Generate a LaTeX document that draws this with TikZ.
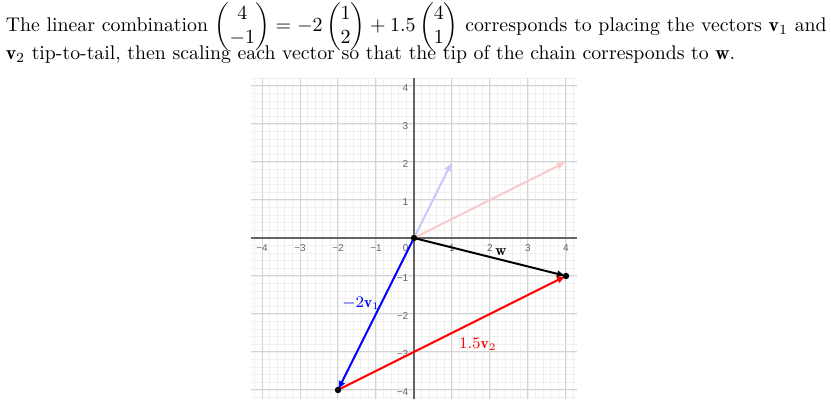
\documentclass[tikz,border=0pt]{standalone}
\usepackage{amsmath}
\usepackage{fontspec}
\newfontfamily\axisfont{Liberation Sans}
\usetikzlibrary{arrows.meta}

\definecolor{faintblue}{RGB}{200,200,255}
\definecolor{faintred}{RGB}{255,200,200}
\definecolor{minorgray}{RGB}{240,240,240}
\definecolor{majorgray}{RGB}{212,212,212}
\definecolor{axisgray}{RGB}{100,100,100}

\tikzset{every picture/.style={line width=0.75pt}}
\tikzset{
  vec/.style={line width=1pt,-{Latex[length=4.5pt,width=3.6pt]}},
  xtick/.style={anchor=center,inner sep=0pt,text=axisgray,font=\axisfont\fontsize{5}{6}\selectfont},
  ytick/.style={anchor=east,inner sep=0pt,text=axisgray,font=\axisfont\fontsize{5}{6}\selectfont},
  veclabel/.style={inner sep=0pt,font=\fontsize{7.7}{9}\selectfont}
}

\begin{document}
\begin{tikzpicture}[x=19pt,y=19pt]
\useasboundingbox (-10.895,-4.737) rectangle (10.974,6.263);

% Text Node
\node [anchor=north west,inner sep=0pt,text width=410.5pt,align=justify,font=\fontsize{9.9}{12}\selectfont] (caption) at (-10.763,6.22)
  {\noindent The linear combination $\begin{pmatrix}4\\-1\end{pmatrix}=-2\begin{pmatrix}1\\2\end{pmatrix}+1.5\begin{pmatrix}4\\1\end{pmatrix}$ corresponds to placing the vectors $\mathbf{v}_1$ and $\mathbf{v}_2$ tip-to-tail, then scaling each vector so that the tip of the chain corresponds to $\mathbf{w}$.%
   \lineskiplimit=-\maxdimen\baselineskip=14.1pt\par};

%Grid
\draw [minorgray,line width=0.4pt] (-4.3,-4.25) grid[step=0.2] (4.3,4.2);
\draw [majorgray,line width=0.5pt] (-4.3,-4.25) grid[step=1] (4.3,4.2);
%Axes
\draw [axisgray,line width=0.6pt] (-4.3,0) -- (4.3,0);
\draw [axisgray,line width=0.6pt] (0,-4.25) -- (0,4.2);

%Tick labels
\foreach \i in {1,...,4} {
  \node [xtick] (xp\i) at (\i,-0.26) {\i};
  \node [xtick] (xn\i) at (-\i,-0.26) {−\i};
  \node [ytick] (yp\i) at (-0.13,\i-0.05) {\i};
  \node [ytick] (yn\i) at (-0.13,-\i-0.05) {−\i};
}
\node [xtick] (x0) at (-0.22,-0.26) {0};

%Points
\coordinate (O) at (0,0);
\coordinate (V1) at (1,2);
\coordinate (V2) at (4,2);
\coordinate (W) at (4,-1);
\coordinate (P) at (-2,-4);

%Vectors
\draw [vec,faintblue] (O) -- (V1);
\draw [vec,faintred] (O) -- (V2);
\draw [vec,black] (O) -- (W);
\draw [vec,blue] (O) -- (P);
\draw [vec,red] (P) -- (W);

\foreach \p in {O,W,P}
  \fill (\p) circle [radius=1.6pt];

% Text Node
\node [veclabel] (lblw) at (2.29,-0.37) {$\mathbf{w}$};
% Text Node
\node [veclabel,text=blue] (lblv1) at (-1.39,-1.71) {$-2\mathbf{v}_1$};
% Text Node
\node [veclabel,text=red] (lblv2) at (1.68,-2.79) {$1.5\mathbf{v}_2$};
\end{tikzpicture}
\end{document}
